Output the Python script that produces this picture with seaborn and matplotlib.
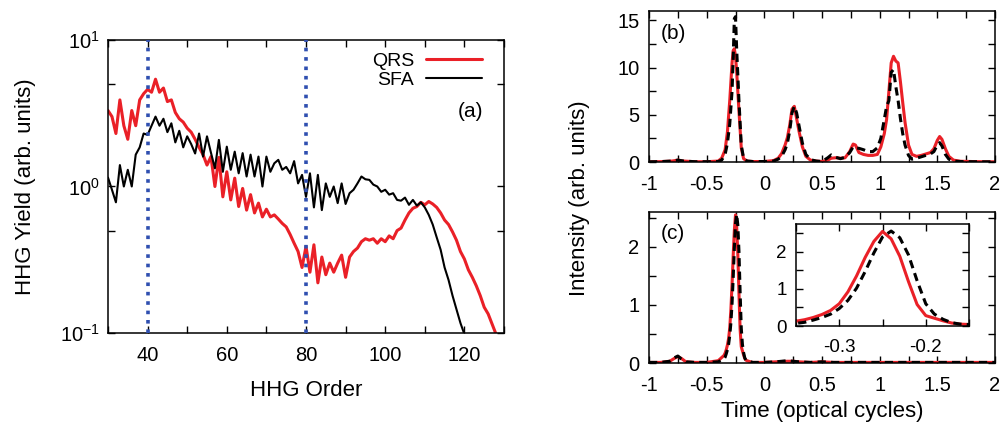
import matplotlib
matplotlib.use("Agg")
import matplotlib.pyplot as plt
import seaborn as sns
from matplotlib.ticker import MultipleLocator, FixedLocator, NullFormatter, FormatStrFormatter

# ---- panel (a): HHG spectra ----
order_qrs = list(range(30, 129))
yield_qrs = [3.3, 3.0, 2.3, 3.9, 2.6, 2.1, 3.3, 2.6, 3.9, 4.3,
             4.6, 4.4, 5.4, 4.4, 4.7, 3.8, 3.9, 3.2, 2.9, 2.75,
             2.5, 2.35, 2.1, 1.85, 1.65, 1.4, 1.6, 1.0, 1.58, 0.85,
             1.26, 0.81, 1.14, 0.73, 0.97, 0.69, 0.88, 0.66, 0.77, 0.62,
             0.70, 0.62, 0.64, 0.60, 0.56, 0.53, 0.47, 0.41, 0.36, 0.28,
             0.39, 0.26, 0.40, 0.22, 0.33, 0.25, 0.30, 0.26, 0.30, 0.34,
             0.24, 0.33, 0.36, 0.38, 0.42, 0.44, 0.43, 0.44, 0.41, 0.44,
             0.42, 0.46, 0.44, 0.50, 0.52, 0.59, 0.66, 0.71, 0.73, 0.78,
             0.75, 0.79, 0.76, 0.72, 0.66, 0.59, 0.55, 0.49, 0.43, 0.36,
             0.32, 0.27, 0.24, 0.21, 0.18, 0.15, 0.135, 0.115, 0.098]

order_sfa = list(range(30, 121))
yield_sfa = [1.15, 0.95, 0.78, 1.4, 1.0, 1.3, 1.0, 1.65, 1.85, 2.3,
             2.25, 2.6, 3.0, 2.6, 2.9, 2.35, 2.7, 2.0, 2.4, 1.85,
             2.2, 1.95, 1.68, 2.3, 1.6, 2.2, 1.7, 1.33, 2.08, 1.26,
             1.87, 1.3, 1.73, 1.23, 1.69, 1.17, 1.65, 1.17, 1.6, 1.0,
             1.6, 1.26, 1.44, 1.52, 1.3, 1.36, 1.23, 1.49, 1.05, 1.2,
             0.85, 1.23, 0.72, 1.2, 0.69, 1.05, 0.85, 1.0, 0.77, 1.05,
             0.76, 0.9, 0.95, 1.05, 1.17, 1.12, 1.11, 1.03, 1.0, 0.92,
             0.95, 0.88, 0.9, 0.81, 0.80, 0.84, 0.75, 0.81, 0.74, 0.78,
             0.72, 0.64, 0.55, 0.45, 0.37, 0.28, 0.23, 0.18, 0.145, 0.117,
             0.098]

cutoff_orders = [40, 80]
yield_ticks = [0.1, 1, 10]
yield_tick_labels = [r"$\mathdefault{10^{-1}}$", r"$\mathdefault{10^{0}}$",
                     r"$\mathdefault{10^{1}}$"]

# ---- panel (b): attosecond pulse train ----
time_b = [-1.0, -0.9, -0.8, -0.75, -0.7, -0.6, -0.5, -0.4, -0.37, -0.34,
          -0.32, -0.3, -0.28, -0.27, -0.26, -0.25, -0.24, -0.22, -0.2, -0.18,
          -0.15, -0.1, 0.0, 0.08, 0.12, 0.15, 0.18, 0.2, 0.22, 0.24,
          0.26, 0.28, 0.3, 0.33, 0.36, 0.4, 0.45, 0.5, 0.55, 0.58,
          0.62, 0.66, 0.7, 0.74, 0.77, 0.79, 0.82, 0.86, 0.9, 0.94,
          0.98, 1.01, 1.04, 1.06, 1.08, 1.1, 1.12, 1.14, 1.16, 1.18,
          1.2, 1.22, 1.25, 1.28, 1.32, 1.36, 1.4, 1.44, 1.47, 1.5,
          1.52, 1.54, 1.57, 1.6, 1.64, 1.7, 1.8, 1.9, 2.0]
qrs_b = [0.02, 0.04, 0.1, 0.2, 0.1, 0.03, 0.03, 0.1, 0.4, 1.3,
         3.2, 6.5, 10.5, 11.8, 12.0, 11.2, 9.6, 5.4, 1.5, 0.35,
         0.1, 0.05, 0.05, 0.15, 0.4, 0.9, 1.8, 2.6, 3.9, 5.6,
         5.9, 4.6, 3.3, 1.6, 0.6, 0.2, 0.1, 0.05, 0.2, 0.4,
         0.45, 0.4, 0.45, 1.1, 1.9, 1.8, 1.0, 0.8, 0.7, 0.7,
         0.8, 1.6, 3.0, 4.5, 7.5, 10.5, 11.2, 10.7, 10.5, 8.5,
         6.3, 4.2, 1.8, 0.8, 0.6, 0.7, 0.85, 1.0, 1.4, 2.3,
         2.7, 2.4, 1.4, 0.6, 0.2, 0.08, 0.05, 0.03, 0.02]
sfa_b = [0.02, 0.04, 0.1, 0.2, 0.1, 0.03, 0.03, 0.05, 0.2, 0.8,
         2.0, 4.0, 7.5, 11.0, 15.2, 15.4, 12.0, 6.5, 1.8, 0.4,
         0.1, 0.05, 0.05, 0.1, 0.3, 0.6, 1.3, 2.0, 3.3, 5.2,
         5.9, 5.2, 3.9, 2.0, 0.8, 0.25, 0.1, 0.05, 0.45, 0.75,
         0.5, 0.35, 0.5, 1.0, 1.6, 1.5, 1.45, 1.3, 1.1, 1.1,
         1.5, 2.5, 4.5, 5.9, 6.5, 9.5, 9.8, 8.0, 6.5, 4.6,
         3.0, 1.8, 0.7, 0.3, 0.4, 0.55, 0.7, 0.85, 1.1, 1.8,
         2.05, 1.7, 0.8, 0.3, 0.1, 0.05, 0.03, 0.02, 0.02]

# ---- panel (c): single attosecond pulse ----
time_c = [-1.0, -0.9, -0.82, -0.78, -0.75, -0.72, -0.68, -0.6, -0.5, -0.4,
          -0.35, -0.34, -0.33, -0.32, -0.31, -0.3, -0.29, -0.28, -0.27, -0.26,
          -0.25, -0.24, -0.23, -0.22, -0.21, -0.2, -0.19, -0.18, -0.17, -0.16,
          -0.15, -0.12, -0.1, 0.0, 0.1, 0.2, 0.25, 0.3, 0.4, 0.5,
          0.6, 1.0, 1.5, 2.0]
qrs_c = [0.01, 0.01, 0.03, 0.08, 0.11, 0.08, 0.02, 0.01, 0.01, 0.04,
         0.13, 0.17, 0.23, 0.31, 0.42, 0.60, 0.92, 1.35, 1.85, 2.28,
         2.55, 2.35, 1.88, 1.20, 0.58, 0.28, 0.21, 0.14, 0.08, 0.05,
         0.04, 0.02, 0.01, 0.01, 0.02, 0.03, 0.03, 0.02, 0.01, 0.02,
         0.01, 0.01, 0.01, 0.01]
sfa_c = [0.01, 0.01, 0.03, 0.09, 0.12, 0.07, 0.02, 0.01, 0.01, 0.02,
         0.07, 0.10, 0.16, 0.23, 0.32, 0.47, 0.69, 1.02, 1.47, 1.97,
         2.40, 2.56, 2.38, 1.92, 1.22, 0.60, 0.32, 0.18, 0.09, 0.05,
         0.04, 0.02, 0.01, 0.01, 0.02, 0.04, 0.03, 0.02, 0.01, 0.02,
         0.01, 0.01, 0.01, 0.01]

RED = "#ea2027"
BLUE = "#2f4fb0"
DASH = (0, (2.7, 1.7))
TICK_FS = 14.5
LABEL_FS = 16

sns.set_style("ticks", {"axes.edgecolor": "black", "text.color": "black",
                        "xtick.color": "black", "ytick.color": "black",
                        "axes.labelcolor": "black"})
plt.rcParams["font.family"] = ["Liberation Sans", "DejaVu Sans"]
plt.rcParams["axes.unicode_minus"] = False

fig = plt.figure(figsize=(10.02, 4.23), dpi=100)
W, H = 1002, 423


def px_axes(left, top, right, bottom):
    return fig.add_axes([left / W, 1 - bottom / H, (right - left) / W, (bottom - top) / H])


def style_axes(ax, xpad=10, ypad=6.5, size=TICK_FS):
    for s in ax.spines.values():
        s.set_linewidth(1.1)
        s.set_color("black")
    ax.tick_params(which="both", direction="in", top=True, right=True,
                   width=1.0, length=5, labelsize=size)
    ax.tick_params(axis="x", which="both", pad=xpad)
    ax.tick_params(axis="y", which="both", pad=ypad)


ax_a = px_axes(108, 40, 504, 333)
ax_b = px_axes(649, 11, 995, 162)
ax_c = px_axes(649, 212, 995, 363)
ax_in = px_axes(796, 224, 969, 326)

# (a)
sns.lineplot(x=order_qrs, y=yield_qrs, ax=ax_a, color=RED, lw=2.2, label="QRS")
sns.lineplot(x=order_sfa, y=yield_sfa, ax=ax_a, color="black", lw=1.5, label="SFA")
for o in cutoff_orders:
    ax_a.axvline(o, color=BLUE, lw=2.6, linestyle=(0, (1.0, 1.6)), zorder=3)
ax_a.set_yscale("log")
ax_a.set_xlim(30, 130)
ax_a.set_ylim(0.1, 10)
ax_a.xaxis.set_major_locator(MultipleLocator(20))
ax_a.xaxis.set_minor_locator(MultipleLocator(10))
ax_a.yaxis.set_major_locator(FixedLocator(yield_ticks))
ax_a.set_yticklabels(yield_tick_labels)
ax_a.yaxis.set_minor_locator(FixedLocator([0.5, 5]))
ax_a.yaxis.set_minor_formatter(NullFormatter())
style_axes(ax_a, xpad=9.5, ypad=6)
ax_a.set_xlabel("HHG Order", fontsize=LABEL_FS)
ax_a.xaxis.set_label_coords(0.5, -0.16)
ax_a.set_ylabel("HHG Yield (arb. units)", fontsize=LABEL_FS)
ax_a.yaxis.set_label_coords(-0.183, 0.5)
ax_a.legend(loc="upper right", bbox_to_anchor=(0.945, 0.958), frameon=False,
            markerfirst=False, handlelength=2.9, handletextpad=0.6,
            labelspacing=0.05, borderaxespad=0, borderpad=0, fontsize=14)
ax_a.text(0.947, 0.755, "(a)", transform=ax_a.transAxes, ha="right",
          va="center", fontsize=15)

# (b)
sns.lineplot(x=time_b, y=qrs_b, ax=ax_b, color=RED, lw=2.2)
sns.lineplot(x=time_b, y=sfa_b, ax=ax_b, color="black", lw=2.2, linestyle=DASH)
ax_b.set_xlim(-1, 2)
ax_b.set_ylim(0, 16)
ax_b.yaxis.set_major_locator(MultipleLocator(5))
ax_b.yaxis.set_minor_locator(MultipleLocator(2.5))
ax_b.text(0.072, 0.854, "(b)", transform=ax_b.transAxes, ha="center",
          va="center", fontsize=15)

# (c)
sns.lineplot(x=time_c, y=qrs_c, ax=ax_c, color=RED, lw=2.2)
sns.lineplot(x=time_c, y=sfa_c, ax=ax_c, color="black", lw=2.2, linestyle=DASH)
ax_c.set_xlim(-1, 2)
ax_c.set_ylim(0, 2.6)
ax_c.yaxis.set_major_locator(MultipleLocator(1))
ax_c.yaxis.set_minor_locator(MultipleLocator(0.5))
ax_c.text(0.068, 0.857, "(c)", transform=ax_c.transAxes, ha="center",
          va="center", fontsize=15)

for ax in (ax_b, ax_c):
    ax.xaxis.set_major_locator(MultipleLocator(0.5))
    ax.xaxis.set_minor_locator(MultipleLocator(0.25))
    ax.xaxis.set_major_formatter(FormatStrFormatter("%g"))
    ax.yaxis.set_major_formatter(FormatStrFormatter("%g"))
    ax.set_ylabel("")
    ax.set_xlabel("")
    style_axes(ax, xpad=9.5, ypad=7)
ax_c.set_xlabel("Time (optical cycles)", fontsize=LABEL_FS)
ax_c.xaxis.set_label_coords(0.5, -0.25)

# inset of (c)
ax_in.set_facecolor("white")
sns.lineplot(x=time_c, y=qrs_c, ax=ax_in, color=RED, lw=2.2)
sns.lineplot(x=time_c, y=sfa_c, ax=ax_in, color="black", lw=2.2, linestyle=DASH)
ax_in.set_xlim(-0.35, -0.15)
ax_in.set_ylim(0, 2.75)
ax_in.xaxis.set_major_locator(MultipleLocator(0.1))
ax_in.xaxis.set_minor_locator(MultipleLocator(0.05))
ax_in.yaxis.set_major_locator(MultipleLocator(1))
ax_in.yaxis.set_minor_locator(MultipleLocator(0.5))
ax_in.xaxis.set_major_formatter(FormatStrFormatter("%g"))
ax_in.yaxis.set_major_formatter(FormatStrFormatter("%g"))
ax_in.set_xlabel("")
ax_in.set_ylabel("")
style_axes(ax_in, xpad=9.5, ypad=6.5, size=13.5)

fig.text(579 / W, 1 - 198 / H, "Intensity (arb. units)", rotation=90,
         ha="center", va="center", fontsize=LABEL_FS)

fig.savefig("out.png", dpi=100)
